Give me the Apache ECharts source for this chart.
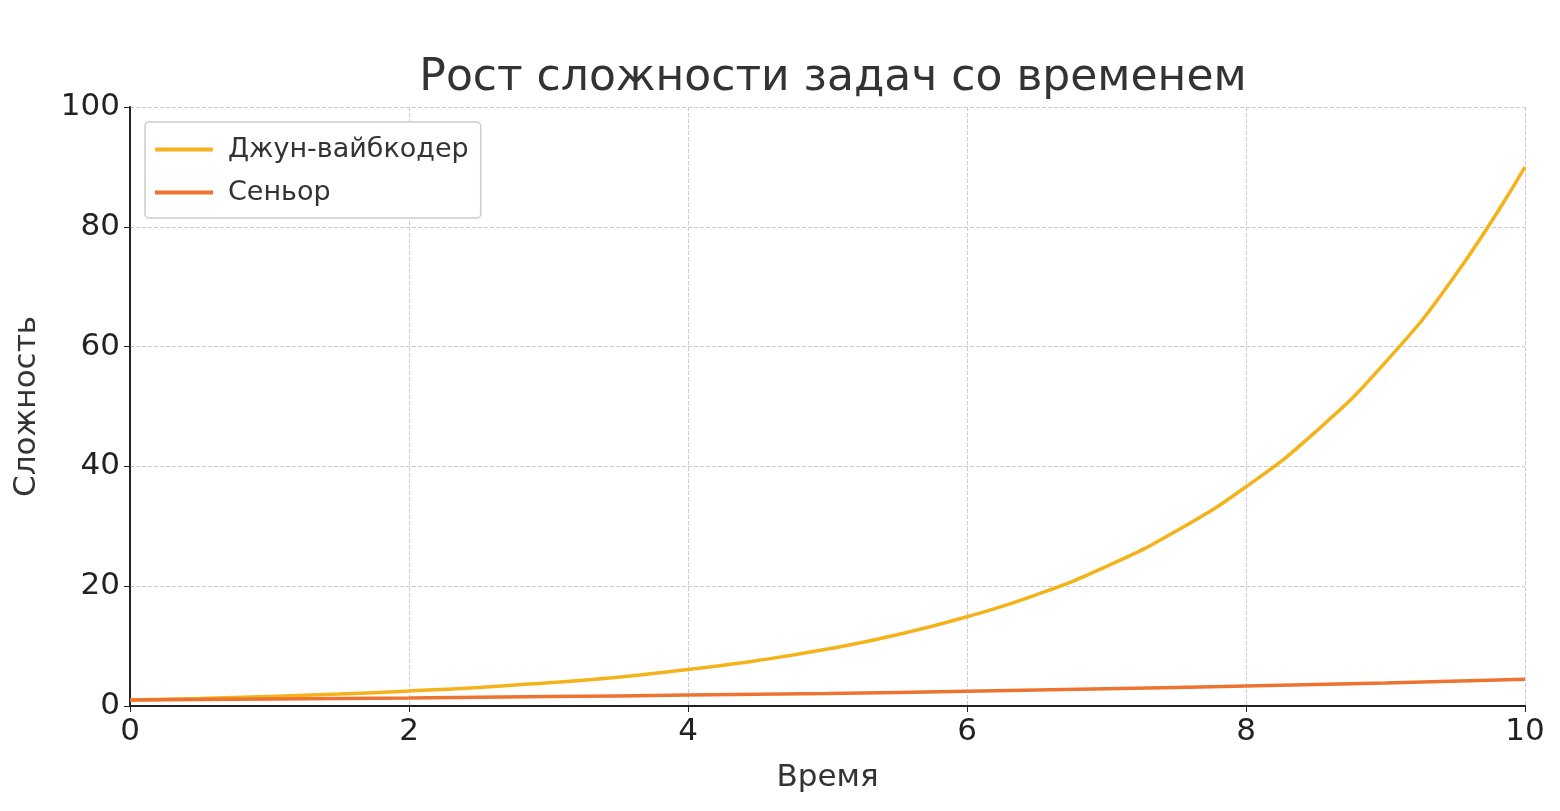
<!DOCTYPE html>
<html>
<head>
<meta charset="utf-8">
<script src="https://cdn.jsdelivr.net/npm/echarts@6/dist/echarts.min.js"></script>
<style>html,body{margin:0;padding:0;background:#fff}#chart{width:1560px;height:811px}</style>
</head>
<body>
<div id="chart"></div>
<script>
// значения
var timeJunior = [0, 0.5, 1, 1.5, 2, 2.5, 3, 3.5, 4, 4.5, 5, 5.5, 6, 6.5, 7, 7.5, 8, 8.5, 9, 9.5, 10];
var valJunior = [1, 1.25, 1.6, 2.0, 2.5, 3.1, 3.9, 4.8, 6.1, 7.6, 9.5, 11.9, 14.9, 18.6, 23.3, 29.2, 36.6, 45.8, 57.4, 71.9, 90];
var timeSenior = [0, 1, 2, 3, 4, 5, 6, 7, 8, 9, 10];
var valSenior = [1, 1.16, 1.35, 1.57, 1.82, 2.1, 2.46, 2.86, 3.32, 3.86, 4.48];

var chart = echarts.init(document.getElementById("chart"));
var font = "'DejaVu Sans', sans-serif";
function pairs(xs, ys) {
  return xs.map(function (x, i) { return [x, ys[i]]; });
}
chart.setOption({
  animation: false,
  textStyle: { fontFamily: font },
  title: {
    text: "Рост сложности задач со временем",
    left: 828, top: 52, textAlign: "center",
    textStyle: { fontSize: 44, fontWeight: "normal", color: "#333", fontFamily: font }
  },
  grid: { left: 130, right: 35, top: 107, bottom: 105 },
  legend: {
    orient: "vertical", left: 145, top: 122,
    padding: [14, 12, 12, 10], itemGap: 16,
    backgroundColor: "#fff", borderColor: "#ccc", borderWidth: 1.5, borderRadius: 4,
    icon: "rect", itemWidth: 58, itemHeight: 4,
    textStyle: { fontSize: 27, color: "#333", padding: [0, 0, 0, 10] },
    data: ["Джун-вайбкодер", "Сеньор"]
  },
  xAxis: {
    type: "value", min: 0, max: 10, interval: 2,
    name: "Время", nameLocation: "middle", nameGap: 56,
    nameTextStyle: { fontSize: 31, color: "#333" },
    axisLine: { show: true, lineStyle: { color: "#222", width: 2 } },
    axisTick: { show: true, length: 6, lineStyle: { color: "#222" } },
    axisLabel: { fontSize: 31, color: "#222", margin: 10 },
    splitLine: { show: true, lineStyle: { type: "dashed", color: "#ccc" } }
  },
  yAxis: {
    type: "value", min: 0, max: 100, interval: 20,
    name: "Сложность", nameLocation: "middle", nameGap: 88,
    nameTextStyle: { fontSize: 31, color: "#333" },
    axisLine: { show: true, lineStyle: { color: "#222", width: 2 } },
    axisTick: { show: true, length: 6, lineStyle: { color: "#222" } },
    axisLabel: { fontSize: 31, color: "#222", margin: 10 },
    splitLine: { show: true, lineStyle: { type: "dashed", color: "#ccc" } }
  },
  series: [
    {
      name: "Джун-вайбкодер", type: "line", smooth: true, showSymbol: false,
      data: pairs(timeJunior, valJunior),
      itemStyle: { color: "#f4b21b" }, lineStyle: { width: 3.5, color: "#f4b21b" }
    },
    {
      name: "Сеньор", type: "line", smooth: true, showSymbol: false,
      data: pairs(timeSenior, valSenior),
      itemStyle: { color: "#ec7430" }, lineStyle: { width: 3.5, color: "#ec7430" }
    }
  ]
});
</script>
</body>
</html>
